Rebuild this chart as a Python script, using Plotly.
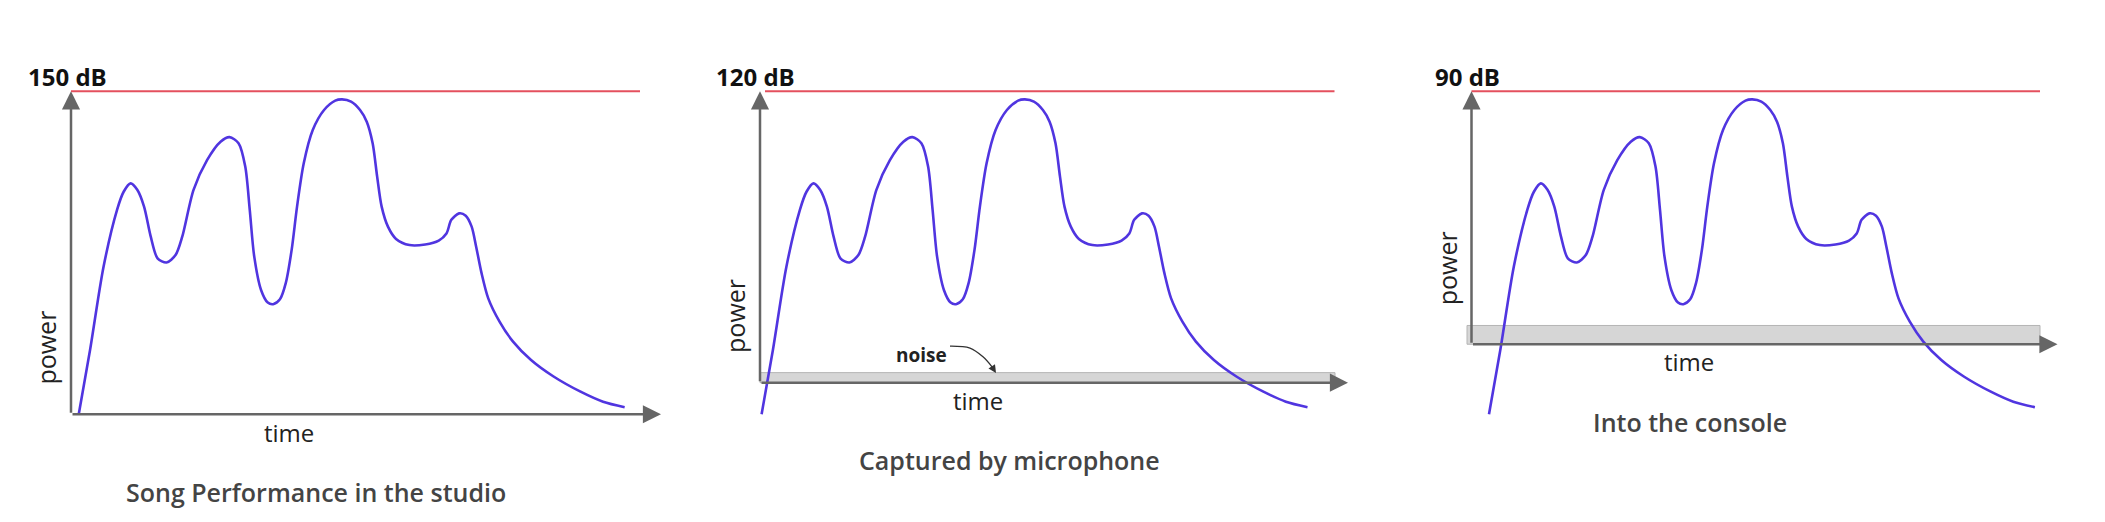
import plotly.graph_objects as go

# relative power scale: 0 = studio floor, 100 = red ceiling line
CEILING_LEVEL = 100.0
PANEL_TITLES = ["Song Performance in the studio", "Captured by microphone", "Into the console"]
CEILING_LABELS = ["150 dB", "120 dB", "90 dB"]
FLOOR_LEVELS = [0.0, 9.8, 21.7]        # where the time axis sits in each panel
NOISE_TOP_LEVELS = [None, 12.9, 27.5]  # top edge of the grey noise band
ONSETS = [7.75, 1.6, 17.5]             # time the song starts after the axis

# song envelope (time after onset, relative power)
CURVE_TIME = [0, 11.3, 24.8, 38.3, 44.9, 51.8, 58.5, 65.3, 72.0, 78.8, 87.8,
              96.8, 103.5, 114.8, 128.3, 141.8, 150.8, 159.8, 166.5, 171.0, 175.5,
              182.3, 189.0, 194.4, 201.2, 207.0, 212.9, 218.3, 225.0, 234.0, 245.3,
              256.5, 263.3, 272.3, 281.3, 288.0, 293.9, 298.4, 302.9, 309.2, 317.3,
              330.8, 346.5, 360.0, 367.7, 372.6, 380.3, 387.0, 392.9, 397.4, 402.8,
              409.5, 420.8, 434.3, 452.3, 474.8, 501.8, 524.3, 545.9]
CURVE_LEVEL = [0, 19.9, 45.7, 63.3, 68.9, 71.5, 69.5, 64.3, 55.0, 48.3, 47.0,
               49.3, 55.0, 69.5, 78.7, 84.4, 85.8, 83.9, 76.7, 63.3, 48.8,
               38.5, 34.6, 34.1, 35.6, 40.6, 50.9, 64.3, 77.7, 88.0, 94.2,
               97.1, 97.5, 96.8, 94.2, 90.6, 83.9, 73.6, 64.3, 58.1, 54.3,
               52.4, 52.6, 53.8, 56.0, 60.2, 62.2, 61.5, 58.1, 51.9, 43.7,
               35.9, 28.7, 22.5, 16.8, 11.7, 7.0, 3.9, 2.2]

NOISE_LABEL = "noise"
NOISE_POINTER_TIME = [190, 210, 223, 232, 236]
NOISE_POINTER_LEVEL = [21.1, 20.5, 17.8, 14.7, 12.8]

# the page body adds an 8px margin, so the figure is 8px smaller than the window
W, H = 2097, 514
CURVE_COLOR = "#5035e0"
CEIL_COLOR = "#e4505e"
AXIS_COLOR = "#666666"

# pixel layout of each panel: domain, y-axis position, ceiling line, arrow tip, band
panels = [
    dict(d0=0, d1=692, axis=63, ceil=(0, 569), tip=590, band=None, label_t=-3.5, title_t=244.5),
    dict(d0=692, d1=1392, axis=752, ceil=(5, 574.5), tip=588, band=(0, 575), label_t=-4.5, title_t=249),
    dict(d0=1392, d1=W, axis=1463.5, ceil=(0, 568.5), tip=586, band=(-4.5, 568.5), label_t=-4.5, title_t=218),
]

fig = go.Figure()
annotations = []
shapes = []

for i, p in enumerate(panels):
    sfx = "" if i == 0 else str(i + 1)
    xa, ya = "x" + sfx, "y" + sfx
    floor = FLOOR_LEVELS[i]

    fig.update_layout(**{
        "xaxis" + sfx: dict(domain=[p["d0"] / W, p["d1"] / W],
                            range=[p["d0"] - p["axis"], p["d1"] - p["axis"]],
                            visible=False, fixedrange=True),
        "yaxis" + sfx: dict(domain=[0, 1], range=[-33.34, 125.79], anchor=xa,
                            visible=False, fixedrange=True),
    })

    if NOISE_TOP_LEVELS[i] is not None:
        shapes.append(dict(type="rect", xref=xa, yref=ya, layer="below",
                           x0=p["band"][0], x1=p["band"][1],
                           y0=floor, y1=NOISE_TOP_LEVELS[i],
                           fillcolor="#d6d6d6", line=dict(color="#b4b4b4", width=1)))

    # ceiling line
    fig.add_trace(go.Scatter(x=list(p["ceil"]), y=[CEILING_LEVEL, CEILING_LEVEL],
                             mode="lines", line=dict(color=CEIL_COLOR, width=2),
                             xaxis=xa, yaxis=ya, hoverinfo="skip", showlegend=False))

    # axes with arrow heads
    annotations.append(dict(xref=xa, yref=ya, axref=xa, ayref=ya,
                            x=0, y=CEILING_LEVEL, ax=0, ay=floor, text="",
                            showarrow=True, arrowhead=2, arrowsize=1.45,
                            arrowwidth=2.5, arrowcolor=AXIS_COLOR))
    annotations.append(dict(xref=xa, yref=ya, axref=xa, ayref=ya,
                            x=p["tip"], y=floor, ax=0, ay=floor, text="",
                            showarrow=True, arrowhead=2, arrowsize=1.45,
                            arrowwidth=2.5, arrowcolor=AXIS_COLOR))

    fig.add_trace(go.Scatter(x=[t + ONSETS[i] for t in CURVE_TIME], y=CURVE_LEVEL,
                             mode="lines", line=dict(color=CURVE_COLOR, width=2.6,
                                                     shape="spline", smoothing=0.8),
                             xaxis=xa, yaxis=ya, hoverinfo="skip", showlegend=False))

    annotations.append(dict(xref=xa, yref=ya, x=p["label_t"], y=104.7,
                            text=CEILING_LABELS[i], showarrow=False,
                            font=dict(family="Open Sans", size=24, weight="bold", color="#111")))
    annotations.append(dict(xref=xa, yref=ya, x=-24.5, y=floor + (20.5 if i < 2 else 23.5),
                            text="power", textangle=-90, showarrow=False,
                            font=dict(family="Open Sans", size=25, color="#222")))
    annotations.append(dict(xref=xa, yref=ya, x=217.5, y=floor - 5.5,
                            text="time", showarrow=False,
                            font=dict(family="Open Sans", size=24, color="#222")))
    annotations.append(dict(xref=xa, yref=ya, x=p["title_t"], y=floor - 24,
                            text=PANEL_TITLES[i], showarrow=False,
                            font=dict(family="Open Sans", size=25, weight=600, color="#444")))

# noise callout in the microphone panel
fig.add_trace(go.Scatter(x=NOISE_POINTER_TIME[:-1], y=NOISE_POINTER_LEVEL[:-1],
                         mode="lines", line=dict(color="#333", width=1.3, shape="spline"),
                         xaxis="x2", yaxis="y2", hoverinfo="skip", showlegend=False))
annotations.append(dict(xref="x2", yref="y2", axref="x2", ayref="y2",
                        x=NOISE_POINTER_TIME[-1], y=NOISE_POINTER_LEVEL[-1],
                        ax=NOISE_POINTER_TIME[-2], ay=NOISE_POINTER_LEVEL[-2], text="",
                        showarrow=True, arrowhead=2, arrowsize=1.2, arrowwidth=1.3,
                        arrowcolor="#333"))
annotations.append(dict(xref="x2", yref="y2", x=161, y=18.4, text=NOISE_LABEL,
                        showarrow=False,
                        font=dict(family="Open Sans", size=19, weight="bold", color="#222")))

fig.update_layout(width=W, height=H, margin=dict(l=0, r=0, t=0, b=0),
                  paper_bgcolor="white", plot_bgcolor="white",
                  annotations=annotations, shapes=shapes)

fig.write_html("out.html")
